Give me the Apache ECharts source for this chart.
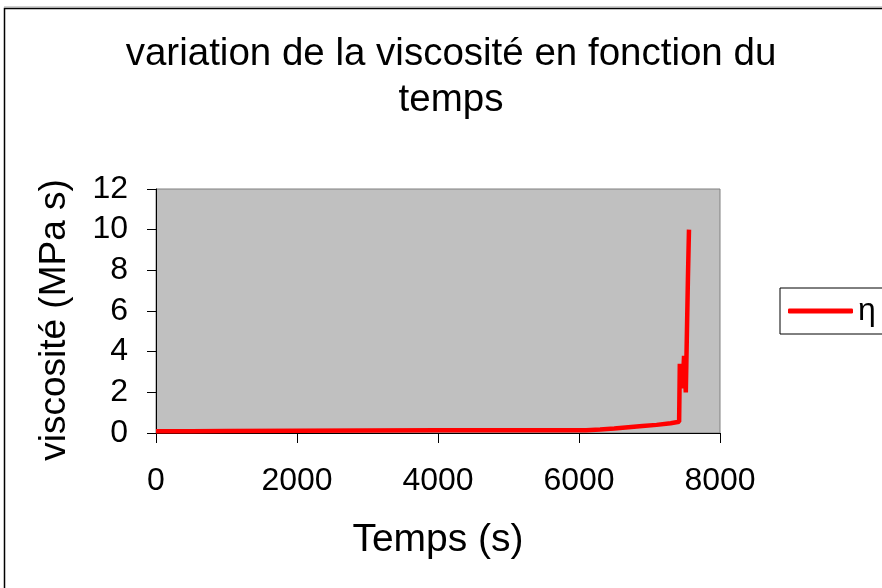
<!DOCTYPE html>
<html><head><meta charset="utf-8">
<script src="https://cdn.jsdelivr.net/npm/echarts@6/dist/echarts.min.js"></script>
<style>html,body{margin:0;padding:0;background:#fff}#c{width:882px;height:588px}</style>
</head><body><div id="c"></div>
<script>
const timeS = [0, 500, 1000, 2000, 3000, 4000, 5000, 5800, 6100, 6300, 6500, 6700, 6900, 7100, 7300, 7420, 7430, 7470, 7490, 7515, 7545, 7560];
const viscosity = [0.08, 0.09, 0.1, 0.11, 0.12, 0.13, 0.13, 0.13, 0.14, 0.17, 0.22, 0.28, 0.34, 0.4, 0.48, 0.55, 3.4, 2.2, 3.8, 2.0, 7.6, 10.0];
const xTicks = [0, 2000, 4000, 6000, 8000];
const yTicks = [0, 2, 4, 6, 8, 10, 12];
const seriesName = 'η';

const chart = echarts.init(document.getElementById('c'));
const font = 'Liberation Sans, Arial, sans-serif';
chart.setOption({
  animation: false,
  backgroundColor: '#fff',
  graphic: [
    {type:'rect', shape:{x:4.5,y:8.5,width:900,height:600}, style:{fill:'none', stroke:'#000', lineWidth:1.5}, z:-1},
    {type:'line', shape:{x1:4,y1:7,x2:882,y2:7}, style:{stroke:'#a0a0a0', lineWidth:1}, z:-1}
  ],
  title: {text: 'variation de la viscosité en fonction du\ntemps', left: 446, top: 26, textAlign: 'center',
    textStyle: {fontFamily: font, fontSize: 38.5, fontWeight: 'normal', color: '#000', lineHeight: 46}},
  grid: {left: 156, top: 189, width: 564, height: 244, show: true, backgroundColor: '#c0c0c0', borderColor: '#808080', borderWidth: 1},
  legend: {data: [seriesName], left: 780, top: 288, orient: 'vertical', borderColor: '#000', borderWidth: 1, padding: [7, 12, 7, 8],
    itemWidth: 65, itemHeight: 5, icon: 'roundRect', itemGap: 4,
    textStyle: {fontFamily: font, fontSize: 32, color: '#000'}},
  xAxis: {type: 'value', min: 0, max: 8000, interval: 2000,
    name: 'Temps (s)', nameLocation: 'middle', nameGap: 88, nameTextStyle: {fontFamily: font, fontSize: 39, color: '#000'},
    axisLine: {show: true, lineStyle: {color: '#000', width: 1}},
    axisTick: {show: true, inside: false, length: 10, lineStyle: {color: '#000'}},
    axisLabel: {fontFamily: font, fontSize: 32, color: '#000', margin: 32, formatter: v => xTicks.includes(v) ? String(v) : ''},
    splitLine: {show: false}},
  yAxis: {type: 'value', min: 0, max: 12, interval: 2,
    name: 'viscosité (MPa s)', nameLocation: 'middle', nameGap: 83, nameRotate: 90,
    nameTextStyle: {fontFamily: font, fontSize: 37, color: '#000', padding: [0, 18, 0, 0]},
    axisLine: {show: true, lineStyle: {color: '#000', width: 1}},
    axisTick: {show: true, inside: false, length: 9, lineStyle: {color: '#000'}},
    axisLabel: {fontFamily: font, fontSize: 32, color: '#000', margin: 28, formatter: v => yTicks.includes(v) ? String(v) : ''},
    splitLine: {show: false}},
  series: [{name: seriesName, type: 'line', showSymbol: false, symbol: 'none',
    data: timeS.map((t, i) => [t, viscosity[i]]),
    lineStyle: {color: '#ff0000', width: 4.5}, itemStyle: {color: '#ff0000'}}]
});
</script></body></html>
